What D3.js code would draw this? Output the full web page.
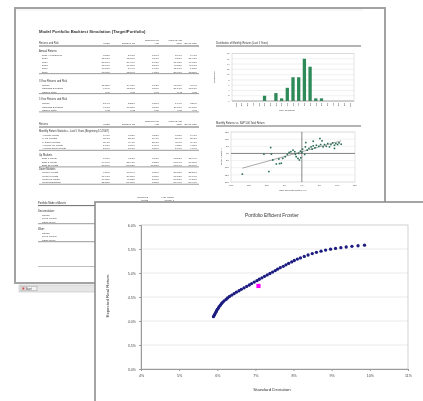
<!DOCTYPE html>
<html>
<head>
<meta charset="utf-8">
<script src="https://cdn.jsdelivr.net/npm/d3@7"></script>
<style>
  body { margin: 0; background: #fff; }
  svg { display: block; }
  text { font-family: "Liberation Sans", Arial, sans-serif; }
</style>
</head>
<body>
<script>
// ---------- efficient frontier (percent) ----------
const frontierSd = [5.90,5.92,5.94,5.96,5.98,6.00,6.03,6.05,6.08,6.11,6.14,6.18,6.23,6.27,6.32,6.38,6.44,6.50,6.57,6.63,
  6.70,6.77,6.84,6.90,6.97,7.04,7.10,7.17,7.24,7.31,7.38,7.45,7.52,7.58,7.65,7.73,7.80,7.87,7.95,8.02,8.10,
  8.18,8.28,8.38,8.49,8.60,8.72,8.84,8.97,9.10,9.24,9.38,9.53,9.69,9.86];
const frontierRet = [4.09,4.12,4.15,4.18,4.21,4.24,4.27,4.30,4.33,4.36,4.39,4.42,4.45,4.48,4.51,4.54,4.57,4.60,4.63,4.66,
  4.69,4.72,4.75,4.78,4.81,4.84,4.87,4.90,4.93,4.96,4.99,5.02,5.05,5.08,5.11,5.14,5.17,5.20,5.23,5.26,5.29,
  5.315,5.345,5.375,5.405,5.43,5.455,5.477,5.497,5.513,5.528,5.542,5.555,5.568,5.58];
const currentSd = 7.08, currentRet = 4.73;
const sdTicks = [4,5,6,7,8,9,10,11];
const retTicks = [3.0,3.5,4.0,4.5,5.0,5.5,6.0];

// ---------- monthly return distribution ----------
const histBins = ["-10%","-9%","-8%","-7%","-6%","-5%","-4%","-3%","-2%","-1%","0%","1%","2%","3%","4%","5%","6%","7%","8%","9%","10%"];
const histCounts = [0,0,0,0,0,2,0,3,1,5,9,9,16,13,1,1,0,0,0,0,0];
const histTicks = [0,2,4,6,8,10,12,14,16,18];

// ---------- model vs S&P 500 monthly returns (percent) ----------
const spxReturns = [-16.8,-9.3,-8.8,-10.7,-8.6,-8.2,-7.2,-6.3,-5.8,-6.5,-5.4,-4.7,-4.1,-3.6,-3.1,-2.5,-2.0,-1.8,-1.6,-1.1,
  -0.7,-0.3,-0.9,-0.4,0.0,0.2,0.8,1.0,1.1,1.5,2.0,2.6,2.9,3.2,3.7,4.1,3.2,4.8,5.3,5.7,6.0,6.4,6.9,5.1,7.3,7.8,8.2,8.7,9.2,9.6,10.1,10.5,9.2,11.1];
const modelReturns = [-14.5,-12.7,4.1,-0.5,-0.5,-4.6,-7.4,-7.1,-6.9,-3.9,-3.5,-2.3,-0.7,0.7,1.2,2.3,1.2,-0.7,-2.3,-3.5,
  -4.6,-3.0,0.0,1.6,0.7,3.0,-0.7,4.6,7.6,2.3,3.5,4.6,3.0,5.3,3.9,5.7,8.5,5.0,6.2,8.8,4.6,6.2,5.0,10.4,6.9,4.6,6.2,7.4,5.7,6.9,6.2,7.4,3.5,6.4];
const scatterTicks = [-20,-15,-10,-5,0,5,10,15];

// ---------- report tables ----------
const colHeads = ["Model","S&P500 TR",["Barclays US","Agg"],["MSCI EAFE","(Net)"],"Eq Wt S&P"];
const annualRows = [
  ["2011 (Annualized)","-3.38%","2.11%","7.84%","-8.04%","-0.41%"],
  ["2010","12.77%","15.06%","6.54%","8.21%","21.91%"],
  ["2009","20.39%","26.46%","5.93%","31.78%","46.03%"],
  ["2008","-15.90%","-37.00%","5.24%","-43.38%","-40.07%"],
  ["2007","10.68%","5.49%","6.97%","11.17%","1.53%"],
  ["2006","13.45%","15.79%","4.33%","26.34%","15.80%"]];
const threeYrRows = [
  ["Return","11.85%","14.11%","6.77%","10.76%","3.94%"],
  ["Standard Deviation","9.79%","15.87%","3.06%","21.17%","18.77%"],
  ["Sharpe Ratio","1.09","0.78","1.90","0.42","0.18"]];
const fiveYrRows = [
  ["Return","5.14%","2.28%","6.50%","-1.04%","3.29%"],
  ["Standard Deviation","9.91%","16.08%","3.63%","20.11%","19.70%"],
  ["Sharpe Ratio","0.31","0.02","1.29","-0.18","0.07"]];
const monthlyRows = [
  ["Average Month","0.46%","0.33%","0.53%","0.08%","0.47%"],
  ["% Up Months","68.3%","58.3%","71.7%","55.0%","58.3%"],
  ["% Down Months","31.7%","41.7%","28.3%","45.0%","41.7%"],
  ["Average Up Month","1.98%","3.39%","1.09%","4.55%","4.37%"],
  ["Average Down Month","-2.79%","-3.97%","-0.89%","-5.40%","-4.99%"]];
const upRows = [
  ["Best 1 Month","6.70%","9.57%","3.73%","13.27%","12.49%"],
  ["Best 3 Month","14.09%","25.43%","6.28%","33.74%","37.30%"],
  ["Best 12 Month","38.00%","53.62%","13.75%","68.14%","80.09%"]];
const downRows = [
  ["Worst 1 Month","-9.86%","-16.79%","-3.36%","-20.18%","-22.27%"],
  ["Worst 3 Month","-17.97%","-29.65%","-3.78%","-36.72%","-39.74%"],
  ["Worst 12 Month","-19.05%","-43.32%","2.06%","-50.21%","-49.27%"],
  ["Worst Drawdown","-25.38%","-50.95%","-3.83%","-56.40%","-56.40%"]];
const allocGroups = [
  {name:"Decumulation:", rows:["Stocks","Fixed Income","Cash (Gold)"]},
  {name:"Wam:", rows:["Stocks","Fixed Income","Cash (Gold)"]}];

const W = 423, H = 401;
const svg = d3.select("body").append("svg").attr("width", W).attr("height", H);
svg.append("rect").attr("width", W).attr("height", H).attr("fill", "#fff");

// grey-only rendering for text
const defs = svg.append("defs");
defs.append("filter").attr("id", "grey").attr("x", 0).attr("y", 0).attr("width", 1).attr("height", 1)
  .append("feColorMatrix").attr("type", "saturate").attr("values", 0);

function label(g, x, y, s, o = {}) {
  return g.append("text")
    .attr("x", x).attr("y", y).attr("dy", "0.35em")
    .attr("font-size", o.size || 2.6)
    .attr("font-weight", o.bold ? "bold" : null)
    .attr("text-anchor", o.anchor || "start")
    .attr("fill", o.fill || "#3c3c3c")
    .attr("transform", o.rotate ? `rotate(${o.rotate},${x},${y})` : null)
    .text(s);
}
function hline(g, x1, x2, y, c = "#555", w = 0.6) {
  g.append("line").attr("x1", x1).attr("x2", x2).attr("y1", y).attr("y2", y)
    .attr("stroke", c).attr("stroke-width", w);
}

// ================= report page behind the chart =================
const page = svg.append("g");
page.append("rect").attr("x", 15).attr("y", 8).attr("width", 370).attr("height", 275)
  .attr("fill", "#fff").attr("stroke", "#a3a3a3").attr("stroke-width", 2);
hline(page, 16, 363, 10, "#e2e2e2", 0.6);

// taskbar strip below the page
page.append("rect").attr("x", 19).attr("y", 285).attr("width", 90).attr("height", 7)
  .attr("fill", "#e6e6e6").attr("stroke", "#c2c2c2").attr("stroke-width", 0.6);
page.append("rect").attr("x", 21).attr("y", 286.2).attr("width", 16).attr("height", 4.6)
  .attr("fill", "#f4f4f4").attr("stroke", "#9a9a9a").attr("stroke-width", 0.5);
page.append("rect").attr("x", 22.3).attr("y", 287.4).attr("width", 2.2).attr("height", 2.2).attr("fill", "#c85050");
label(page.append("g").attr("filter", "url(#grey)"), 25.5, 288.6, "Start", {size: 2.8, fill: "#333"});

const doc = page.append("g").attr("filter", "url(#grey)");

// report title
label(doc, 39, 32, "Model Portfolio Backtest Simulation (Target/Portfolio)", {size: 4.2, bold: true, fill: "#333"});

const colX = [110, 135, 159, 182, 197];
function header(yTop, firstLabel) {
  label(doc, 39, yTop + 3, firstLabel, {size: 2.6});
  colHeads.forEach((h, i) => {
    if (Array.isArray(h)) {
      label(doc, colX[i], yTop, h[0], {size: 2.5, anchor: "end"});
      label(doc, colX[i], yTop + 3, h[1], {size: 2.5, anchor: "end"});
    } else label(doc, colX[i], yTop + 3, h, {size: 2.5, anchor: "end"});
  });
  hline(doc, 39, 199, yTop + 5.5, "#444", 0.8);
}
function section(title, yTitle, rows, y0, step) {
  label(doc, 39, yTitle, title, {size: 2.6, fill: "#333"});
  rows.forEach((r, k) => {
    const y = y0 + k * step;
    label(doc, 42, y, r[0], {size: 2.5});
    r.slice(1).forEach((v, i) => label(doc, colX[i], y, v, {size: 2.5, anchor: "end"}));
  });
  hline(doc, 39, 199, y0 + (rows.length - 1) * step + 1.9, "#555", 0.6);
}

header(40.5, "Returns and Risk");
section("Annual Returns", 51, annualRows, 55, 3.35);
section("3 Year Returns and Risk", 81, threeYrRows, 85, 3.35);
section("5 Year Returns and Risk", 99, fiveYrRows, 103.3, 3.35);

header(121.5, "Returns");
section("Monthly Return Statistics - Last 5 Years (Beginning 1/1/2007)", 131, monthlyRows, 135, 3.35);
section("Up Markets", 155, upRows, 158.3, 3.35);
section("Down Markets", 169, downRows, 172.3, 3.35);

// allocation block (mostly under the chart)
label(doc, 148, 197.5, "Rolling 12", {size: 2.4, anchor: "end"});
label(doc, 148, 200.3, "Month", {size: 2.4, anchor: "end"});
label(doc, 174, 197.5, "Hist. Range", {size: 2.4, anchor: "end"});
label(doc, 174, 200.3, "(Mean) 1", {size: 2.4, anchor: "end"});
label(doc, 38, 203.3, "Portfolio Mode of Assets", {size: 2.6, fill: "#333"});
hline(doc, 38, 280, 205.6, "#444", 0.8);
allocGroups.forEach((grp, gi) => {
  const y0 = 211 + gi * 18;
  label(doc, 38, y0, grp.name, {size: 2.6, fill: "#333"});
  grp.rows.forEach((r, k) => label(doc, 42, y0 + 4 + k * 3.4, r, {size: 2.5}));
  hline(doc, 38, 280, y0 + 4 + 2 * 3.4 + 1.9, "#555", 0.6);
});
hline(doc, 38, 280, 266.7, "#777", 0.6);

// ---- distribution of monthly returns ----
label(doc, 216, 43.5, "Distribution of Monthly Returns (Last 5 Years)", {size: 2.6, fill: "#333"});
hline(doc, 216, 361, 46, "#444", 0.8);
const hx = d3.scaleBand().domain(histBins).range([232, 354]).padding(0.42);
const hy = d3.scaleLinear().domain([0, 18]).range([101, 53.5]);
const hist = page.append("g");
hist.selectAll("line.g").data(histTicks).join("line")
  .attr("x1", 232).attr("x2", 354).attr("y1", d => hy(d)).attr("y2", d => hy(d))
  .attr("stroke", "#d8d8d8").attr("stroke-width", 0.4);
hist.append("rect").attr("x", 232).attr("y", 53.5).attr("width", 122).attr("height", 47.5)
  .attr("fill", "none").attr("stroke", "#c8c8c8").attr("stroke-width", 0.5);
hist.selectAll("rect.bar").data(histBins).join("rect").attr("class", "bar")
  .attr("x", d => hx(d)).attr("width", hx.bandwidth())
  .attr("y", (d, i) => hy(histCounts[i])).attr("height", (d, i) => hy(0) - hy(histCounts[i]))
  .attr("fill", "#2f8a5a");
hline(hist, 232, 354, 101, "#777", 0.5);
const histText = hist.append("g").attr("filter", "url(#grey)");
histTicks.forEach(t => label(histText, 229.5, hy(t), t, {size: 2.1, anchor: "end"}));
histBins.forEach(b => label(histText, hx(b) + hx.bandwidth() / 2, 103, b, {size: 2.1, anchor: "end", rotate: -90}));
label(histText, 214, 77, "Frequency", {size: 2.5, anchor: "middle", rotate: -90});
label(histText, 287, 110, "Size of Return", {size: 2.5, anchor: "middle"});

// ---- model vs S&P 500 ----
label(doc, 216, 123.5, "Monthly Returns vs. S&P 500 Total Return", {size: 2.6, fill: "#333"});
hline(doc, 216, 361, 126, "#444", 0.8);
const sx = d3.scaleLinear().domain([-20, 15]).range([231, 355]);
const sy = d3.scaleLinear().domain([-20, 15]).range([182, 132]);
const sc = page.append("g");
scatterTicks.forEach(t => hline(sc, 231, 355, sy(t), "#dcdcdc", 0.4));
sc.append("rect").attr("x", 231).attr("y", 132).attr("width", 124).attr("height", 50)
  .attr("fill", "none").attr("stroke", "#c8c8c8").attr("stroke-width", 0.5);
hline(sc, 231, 355, sy(0), "#555", 0.7);
sc.append("line").attr("x1", sx(0)).attr("x2", sx(0)).attr("y1", 132).attr("y2", 182)
  .attr("stroke", "#555").attr("stroke-width", 0.7);
const scText = sc.append("g").attr("filter", "url(#grey)");
scatterTicks.forEach(t => {
  label(scText, 229, sy(t), t + "%", {size: 2.1, anchor: "end"});
  label(scText, sx(t), 185.5, t + "%", {size: 2.1, anchor: "middle"});
});
label(scText, 221, 157, "Portfolio Return", {size: 2.4, anchor: "middle", rotate: -90});
label(scText, 293, 190, "S&P 500 Total Return (%)", {size: 2.4, anchor: "middle"});
// least-squares trend line
const n = spxReturns.length;
const mx = d3.mean(spxReturns), my = d3.mean(modelReturns);
let sxy = 0, sxx = 0;
for (let i = 0; i < n; i++) { sxy += (spxReturns[i] - mx) * (modelReturns[i] - my); sxx += (spxReturns[i] - mx) ** 2; }
const slope = sxy / sxx, icpt = my - slope * mx;
const [xa, xb] = d3.extent(spxReturns);
sc.append("line").attr("x1", sx(xa)).attr("y1", sy(icpt + slope * xa))
  .attr("x2", sx(xb)).attr("y2", sy(icpt + slope * xb)).attr("stroke", "#555").attr("stroke-width", 0.5);
sc.selectAll("rect.pt").data(d3.range(n)).join("rect").attr("class", "pt")
  .attr("x", i => sx(spxReturns[i]) - 0.8).attr("y", i => sy(modelReturns[i]) - 0.8)
  .attr("width", 1.6).attr("height", 1.6).attr("fill", "#2b6e55");

// ================= Portfolio Efficient Frontier chart =================
const ch = svg.append("g");
ch.append("rect").attr("x", 95).attr("y", 202).attr("width", 360).attr("height", 230)
  .attr("fill", "#fff").attr("stroke", "#8e8e8e").attr("stroke-width", 1.6);

const x = d3.scaleLinear().domain([4, 11]).range([141, 408]);
const y = d3.scaleLinear().domain([3, 6]).range([369, 225]);

// grid
ch.selectAll("line.grid").data(retTicks.slice(1, -1)).join("line").attr("class", "grid")
  .attr("x1", x(4)).attr("x2", x(11)).attr("y1", d => y(d)).attr("y2", d => y(d))
  .attr("stroke", "#e4e4e4").attr("stroke-width", 0.8);
// plot frame
ch.append("rect").attr("x", x(4)).attr("y", y(6)).attr("width", x(11) - x(4)).attr("height", y(3) - y(6))
  .attr("fill", "none").attr("stroke", "#cdcdcd").attr("stroke-width", 0.9);

const xAxis = ch.append("g").attr("filter", "url(#grey)").attr("transform", `translate(0,${y(3)})`)
  .call(d3.axisBottom(x).tickValues(sdTicks).tickSize(2).tickPadding(3.5).tickFormat(d => d + "%"));
const yAxis = ch.append("g").attr("filter", "url(#grey)").attr("transform", `translate(${x(4)},0)`)
  .call(d3.axisLeft(y).tickValues(retTicks).tickSize(2).tickPadding(3).tickFormat(d => d3.format(".1f")(d) + "%"));
[xAxis, yAxis].forEach(a => {
  a.select(".domain").attr("stroke", "#9a9a9a").attr("stroke-width", 1);
  a.selectAll(".tick line").attr("stroke", "#9a9a9a");
  a.selectAll("text").attr("font-size", 3.6).attr("fill", "#444")
    .attr("font-family", '"Liberation Sans", Arial, sans-serif');
});

const titles = ch.append("g").attr("filter", "url(#grey)");
label(titles, 272, 215.5, "Portfolio Efficient Frontier", {size: 4.8, anchor: "middle", fill: "#333"});
label(titles, 272, 389.3, "Standard Deviation", {size: 4.4, anchor: "middle", fill: "#333"});
label(titles, 107, 296, "Expected Real Return", {size: 4.4, anchor: "middle", fill: "#333", rotate: -90});

// frontier points
ch.selectAll("circle.f").data(frontierSd).join("circle").attr("class", "f")
  .attr("cx", d => x(d)).attr("cy", (d, i) => y(frontierRet[i])).attr("r", 1.65)
  .attr("fill", "#1b1b80");
// current portfolio
ch.append("rect").attr("x", x(currentSd) - 2.1).attr("y", y(currentRet) - 2.1)
  .attr("width", 4.2).attr("height", 4.2).attr("fill", "#ff00ff");
</script>
</body>
</html>
